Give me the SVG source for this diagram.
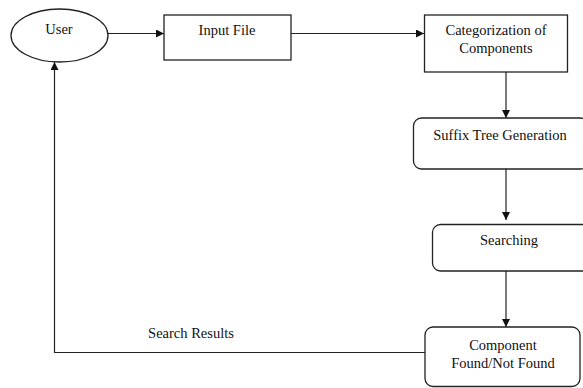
<svg xmlns="http://www.w3.org/2000/svg" width="583" height="388" viewBox="0 0 583 388">
<style>
.box{fill:#fff;stroke:#222;stroke-width:1.3}
.t{font-family:'Liberation Serif','DejaVu Serif',serif;font-size:14.5px;fill:#111;text-anchor:middle}
.c{fill:none;stroke:#222;stroke-width:1.2}
</style>
<defs>
<marker id="ah" viewBox="0 0 10 10" refX="10" refY="5" markerWidth="8" markerHeight="8" markerUnits="userSpaceOnUse" orient="auto">
<path d="M0,0 L10,5 L0,10 z" fill="#111"/>
</marker>
</defs>
<rect width="583" height="388" fill="#fff"/>
<g id="connectors">
<line class="c" x1="108" y1="33.5" x2="164" y2="33.5" marker-end="url(#ah)"/>
<line class="c" x1="291" y1="33.5" x2="424" y2="33.5" marker-end="url(#ah)"/>
<line class="c" x1="506" y1="72" x2="506" y2="118" marker-end="url(#ah)"/>
<line class="c" x1="506" y1="169" x2="506" y2="220" marker-end="url(#ah)"/>
<line class="c" x1="506" y1="271" x2="506" y2="327" marker-end="url(#ah)"/>
<polyline class="c" points="425,352.5 54.5,352.5 54.5,62" marker-end="url(#ah)"/>
<text class="t" x="191" y="338" font-family="Liberation Serif, serif">Search Results</text>
</g>
<g id="user">
<ellipse class="box" cx="59.5" cy="35.5" rx="48.5" ry="26.5"/>
<text class="t" x="59" y="34" font-family="Liberation Serif, serif">User</text>
</g>
<g id="input-file">
<rect class="box" x="164" y="15" width="127" height="45"/>
<text class="t" x="227" y="35" font-family="Liberation Serif, serif">Input File</text>
</g>
<g id="categorization">
<rect class="box" x="424.5" y="15" width="143" height="57"/>
<text class="t" x="496" y="35" font-family="Liberation Serif, serif">Categorization of</text>
<text class="t" x="496" y="53" font-family="Liberation Serif, serif">Components</text>
</g>
<g id="suffix-tree">
<rect class="box" x="413.5" y="118" width="175" height="51" rx="8"/>
<text class="t" x="500" y="140" font-family="Liberation Serif, serif">Suffix Tree Generation</text>
</g>
<g id="searching">
<rect class="box" x="432.5" y="224.5" width="160" height="46.5" rx="8"/>
<text class="t" x="509" y="245" font-family="Liberation Serif, serif">Searching</text>
</g>
<g id="component-found">
<rect class="box" x="425" y="327" width="155" height="59.5" rx="8"/>
<text class="t" x="503" y="350" font-family="Liberation Serif, serif">Component</text>
<text class="t" x="503" y="368" font-family="Liberation Serif, serif">Found/Not Found</text>
</g>
</svg>
